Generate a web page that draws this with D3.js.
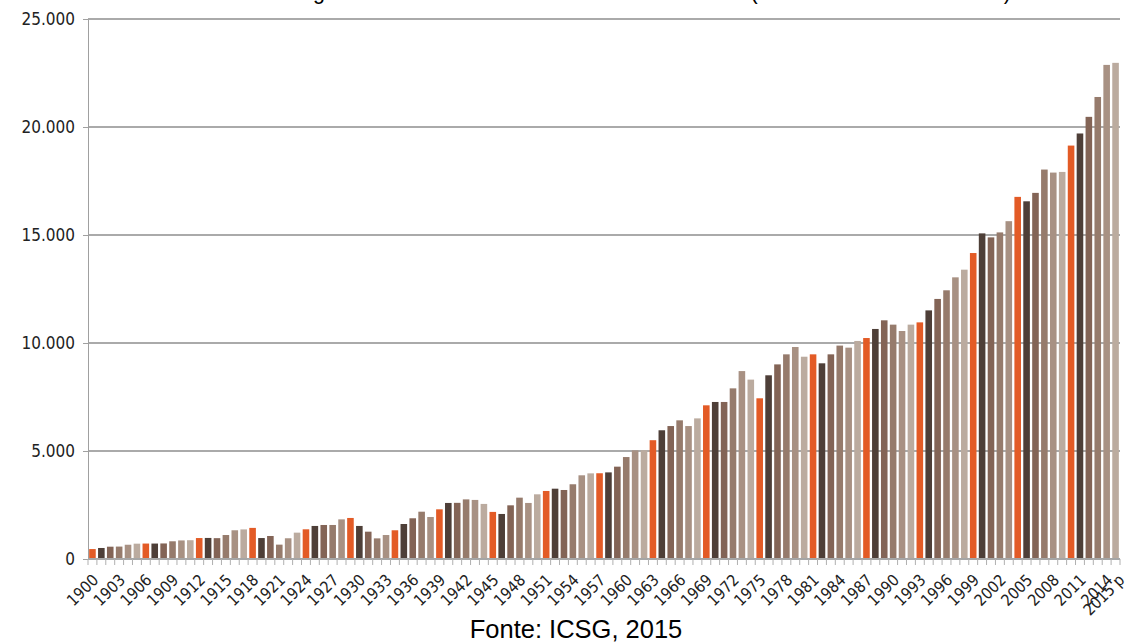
<!DOCTYPE html>
<html>
<head>
<meta charset="utf-8">
<script src="https://cdn.jsdelivr.net/npm/d3@7"></script>
<style>
  body { margin: 0; background: #fff; }
  svg { display: block; }
</style>
</head>
<body>
<div id="chart"></div>
<script>
// world refined copper, thousand tonnes, 1900..2015
const years = d3.range(1900, 2016);
const values = [
  460, 510, 570, 575, 660, 710, 715, 715, 720, 820,
  860, 870, 970, 975, 965, 1110, 1330, 1370, 1440, 970,
  1065, 665, 960, 1220, 1375, 1530, 1575, 1575, 1835, 1900,
  1530, 1265, 955, 1110, 1330, 1620, 1885, 2190, 1945, 2300,
  2595, 2600, 2760, 2735, 2550, 2180, 2085, 2485, 2840, 2595,
  2995, 3150, 3255, 3195, 3460, 3875, 3965, 3970, 4010, 4275,
  4720, 5030, 5035, 5500, 5960, 6155, 6420, 6155, 6510, 7115,
  7270, 7270, 7900, 8700, 8305, 7440, 8505, 9010, 9475, 9815,
  9365, 9475, 9060, 9475, 9880, 9785, 10095, 10230, 10650, 11050,
  10850, 10555, 10850, 10955, 11510, 12040, 12440, 13040, 13395, 14165,
  15075, 14890, 15120, 15640, 16765, 16560, 16950, 18030, 17890, 17920,
  19140, 19700, 20470, 21390, 22875, 22970
];
// years where the colour sequence starts again with orange
const cycleStarts = [1900, 1906, 1912, 1918, 1924, 1929, 1934, 1939, 1945, 1951,
  1957, 1963, 1969, 1975, 1981, 1987, 1993, 1999, 2004, 2010];
const yTicks = [0, 5000, 10000, 15000, 20000, 25000];
const labelYears = d3.range(1900, 2015, 3).concat([2015]);
const palette = ['#e35b26', '#4e3f38', '#836456', '#967b6c', '#a89183', '#bbab9f'];

const width = 1134, height = 644;
const margin = { top: 19, right: 14, bottom: 85, left: 88 };

const svg = d3.select('#chart').append('svg')
  .attr('width', width)
  .attr('height', height);

const x = d3.scaleBand()
  .domain(years)
  .range([margin.left, width - margin.right])
  .paddingInner(0.26)
  .paddingOuter(0.13);

const y = d3.scaleLinear()
  .domain([0, 25000])
  .range([height - margin.bottom, margin.top]);

const fmt = d => d === 0 ? '0' : d3.format(',')(d).replace(/,/g, '.');

// gridlines
svg.append('g')
  .selectAll('line')
  .data(yTicks.filter(d => d > 0))
  .join('line')
  .attr('x1', margin.left)
  .attr('x2', width - margin.right)
  .attr('y1', d => y(d))
  .attr('y2', d => y(d))
  .attr('stroke', '#aaaaaa')
  .attr('stroke-width', 1.8);

// y axis
const yAxis = svg.append('g')
  .attr('transform', `translate(${margin.left},0)`)
  .call(d3.axisLeft(y).tickValues(yTicks).tickSize(5).tickPadding(8).tickFormat(fmt));
yAxis.select('.domain').attr('stroke', '#a0a0a0');
yAxis.selectAll('.tick line').attr('stroke', '#a0a0a0');
yAxis.selectAll('text')
  .attr('fill', '#222')
  .style('font-family', '"Liberation Sans Narrow", "DejaVu Sans Condensed", sans-serif')
  .style('font-size', '17px');

// bars
svg.append('g')
  .selectAll('rect')
  .data(years.map((yr, i) => ({ year: yr, value: values[i] })))
  .join('rect')
  .attr('x', d => x(d.year))
  .attr('y', d => y(d.value))
  .attr('width', x.bandwidth())
  .attr('height', d => y(0) - y(d.value))
  .attr('fill', d => {
    const start = d3.max(cycleStarts.filter(s => s <= d.year));
    return palette[(d.year - start) % palette.length];
  });

// x axis: line plus small ticks between bars
const base = y(0);
const plotW = width - margin.right - margin.left;
svg.append('line')
  .attr('x1', margin.left).attr('x2', width - margin.right)
  .attr('y1', base).attr('y2', base)
  .attr('stroke', '#a6a6a6').attr('stroke-width', 1.8);
svg.append('g')
  .selectAll('line')
  .data(d3.range(years.length + 1))
  .join('line')
  .attr('x1', i => margin.left + plotW * i / years.length)
  .attr('x2', i => margin.left + plotW * i / years.length)
  .attr('y1', base)
  .attr('y2', base + 6)
  .attr('stroke', '#b0b0b0');

// x labels (the longer "2015 p" sits a little further right, like in the original)
const labelText = d => d === 2015 ? '2015 p' : String(d);
svg.append('g')
  .selectAll('text')
  .data(labelYears)
  .join('text')
  .attr('transform', d => {
    const shift = labelText(d).length > 4 ? 3 : 0;
    return `translate(${x(d) + x.bandwidth() / 2 + 7 + shift},${base + 22}) rotate(-45)`;
  })
  .attr('text-anchor', 'end')
  .attr('fill', '#222')
  .style('font-family', '"Liberation Sans Narrow", "DejaVu Sans Condensed", sans-serif')
  .style('font-size', '16px')
  .text(labelText);

// title (cut off at the top of the picture, as in the original)
svg.append('text')
  .attr('x', 653)
  .attr('y', -1)
  .attr('text-anchor', 'middle')
  .style('font-family', '"Liberation Sans", Arial, sans-serif')
  .style('font-size', '21.5px')
  .text('Figura 3 – Consumo mundial de cobre refinado (em milhares de toneladas)');

// source
svg.append('text')
  .attr('x', 576)
  .attr('y', 638)
  .attr('text-anchor', 'middle')
  .style('font-family', '"Liberation Sans", Arial, sans-serif')
  .style('font-size', '25.5px')
  .text('Fonte: ICSG, 2015');
</script>
</body>
</html>
